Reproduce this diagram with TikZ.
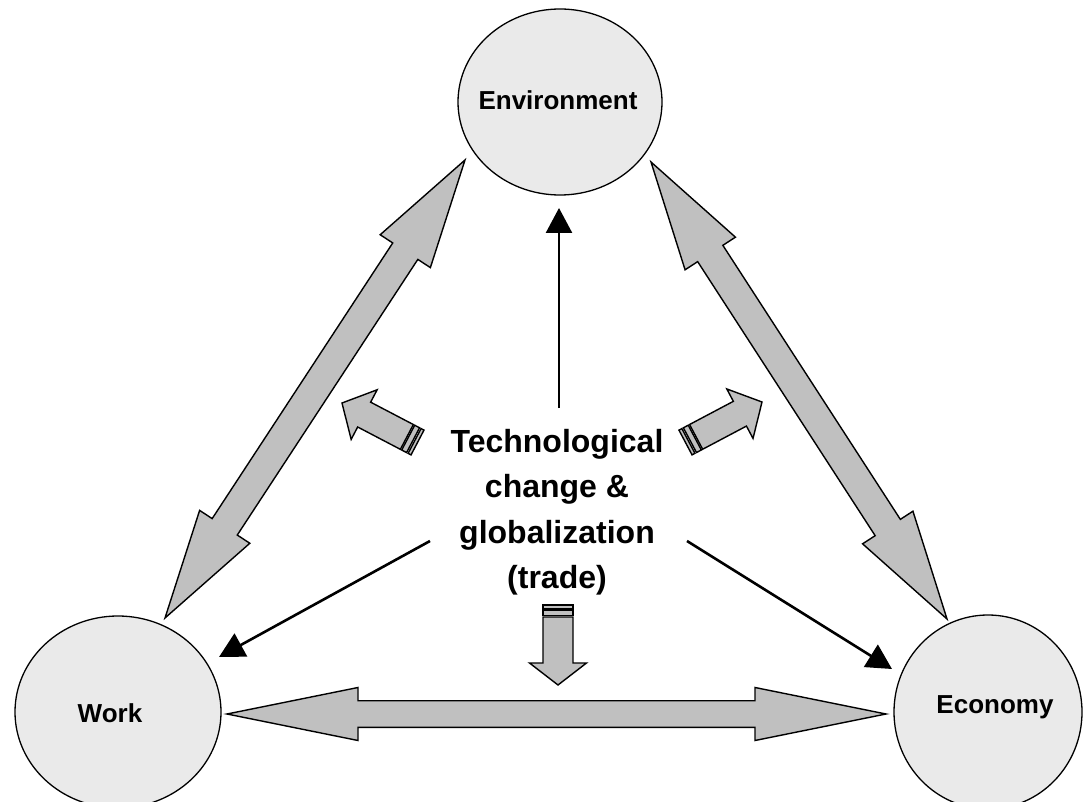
\documentclass[tikz,border=0pt]{standalone}
\usepackage{fontspec}
\setmainfont{Liberation Sans}
\usetikzlibrary{shapes.geometric,calc,arrows.meta}
\definecolor{ellfill}{RGB}{234,234,234}
\definecolor{arrfill}{RGB}{192,192,192}
\tikzset{
 ell/.style={ellipse, draw=black, line width=1.3pt, fill=ellfill, inner sep=0pt},
 blockarr/.style={draw=black, line width=1.4pt, fill=arrfill, line join=miter},
 thinarr/.style={line width=2.6pt, -{Triangle[length=25pt,width=26pt]}},
 lbl/.style={font=\fontsize{26}{31}\selectfont\bfseries},
}
\newcommand\dblarr[5]{%
 \draw[blockarr] (#1)
 -- ($(#1)!#3!(#2)!#4!90:(#2)$)
 -- ($(#1)!#3!(#2)!#5!90:(#2)$)
 -- ($(#2)!#3!(#1)!#5!-90:(#1)$)
 -- ($(#2)!#3!(#1)!#4!-90:(#1)$)
 -- (#2)
 -- ($(#2)!#3!(#1)!#4!90:(#1)$)
 -- ($(#2)!#3!(#1)!#5!90:(#1)$)
 -- ($(#1)!#3!(#2)!#5!-90:(#2)$)
 -- ($(#1)!#3!(#2)!#4!-90:(#2)$)
 -- cycle;}
\newcommand\strarr[5]{%
 \draw[blockarr] ($(#1)!#5!90:(#2)$) -- ($(#1)!#5!-90:(#2)$)
   -- ($(#1)!3.3pt!(#2)!#5!-90:(#2)$) -- ($(#1)!3.3pt!(#2)!#5!90:(#2)$) -- cycle;
 \draw[blockarr] ($(#1)!5pt!(#2)!#5!90:(#2)$) -- ($(#1)!5pt!(#2)!#5!-90:(#2)$)
   -- ($(#1)!10.5pt!(#2)!#5!-90:(#2)$) -- ($(#1)!10.5pt!(#2)!#5!90:(#2)$) -- cycle;
 \draw[blockarr] ($(#1)!12pt!(#2)!#5!90:(#2)$)
   -- ($(#2)!#3!(#1)!#5!-90:(#1)$)
   -- ($(#2)!#3!(#1)!#4!-90:(#1)$)
   -- (#2)
   -- ($(#2)!#3!(#1)!#4!90:(#1)$)
   -- ($(#2)!#3!(#1)!#5!90:(#1)$)
   -- ($(#1)!12pt!(#2)!#5!-90:(#2)$) -- cycle;}
\begin{document}
\begin{tikzpicture}[x=1pt,y=-1pt]
\useasboundingbox (0,0) rectangle (1084,802);
% ellipses
\node[ell, minimum width=204pt, minimum height=186pt,
  label={[lbl,xshift=-2pt,yshift=2pt]center:Environment}] (env) at (560,102) {};
\node[ell, minimum width=206pt, minimum height=192pt,
  label={[lbl,xshift=-8pt,yshift=-1pt]center:Work}] (work) at (118,712) {};
\node[ell, minimum width=188pt, minimum height=194pt,
  label={[lbl,xshift=7pt,yshift=5pt]center:Economy}] (eco) at (988,712) {};
% end points of the big double arrows
\coordinate (envL) at (465,160);
\coordinate (workT) at (165,618);
\coordinate (envR) at (651,162);
\coordinate (ecoT) at (947,619);
\coordinate (workR) at (227,714);
\coordinate (ecoL) at (886,714);
\dblarr{envL}{workT}{109pt}{30pt}{15pt}
\dblarr{envR}{ecoT}{109pt}{30pt}{15pt}
\dblarr{workR}{ecoL}{131pt}{26.5pt}{13.3pt}
% centre text
\node[font=\fontsize{32}{45.5}\selectfont\bfseries, align=center, inner sep=0pt]
  (tc) at (557,512) {Technological\\change \&\\globalization\\(trade)};
% striped arrows
\coordinate (sLt) at (417.5,442.5);
\coordinate (sLh) at (342,403);
\coordinate (sRt) at (685.5,442.5);
\coordinate (sRh) at (762,402);
\coordinate (sDt) at (558,605);
\coordinate (sDh) at (558,685);
\strarr{sLt}{sLh}{25pt}{28pt}{14pt}
\strarr{sRt}{sRh}{25pt}{28pt}{14pt}
\strarr{sDt}{sDh}{22pt}{28.5pt}{15pt}
% thin arrows
\coordinate (tU) at (559,408);
\coordinate (tUe) at (559,208);
\coordinate (tL) at (430,541);
\coordinate (tLe) at (219,657);
\coordinate (tR) at (687,541);
\coordinate (tRe) at (892,669);
\draw[thinarr] (tU) -- (tUe);
\draw[thinarr] (tL) -- (tLe);
\draw[thinarr] (tR) -- (tRe);
\end{tikzpicture}
\end{document}
